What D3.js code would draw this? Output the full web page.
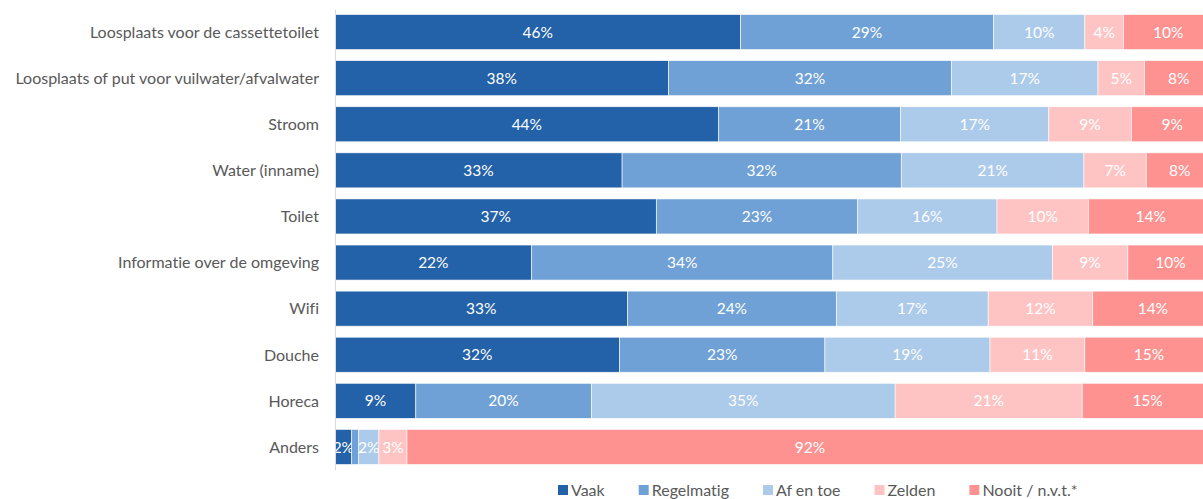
<!DOCTYPE html>
<html>
<head>
<meta charset="utf-8">
<script src="https://cdn.jsdelivr.net/npm/d3@7"></script>
<style>
  body { margin: 0; background: #fff; }
  svg { display: block; font-family: Lato, "Open Sans", sans-serif; font-variant-ligatures: none; }
</style>
</head>
<body>
<div id="chart"></div>
<script>
// categories, top to bottom
const categories = [
  "Loosplaats voor de cassettetoilet",
  "Loosplaats of put voor vuilwater/afvalwater",
  "Stroom",
  "Water (inname)",
  "Toilet",
  "Informatie over de omgeving",
  "Wifi",
  "Douche",
  "Horeca",
  "Anders"
];
const seriesNames = ["Vaak", "Regelmatig", "Af en toe", "Zelden", "Nooit / n.v.t.*"];
const colors = ["#2361a8", "#6fa1d6", "#accae9", "#fec4c4", "#fd9291"];

// percentages per series, same order as categories
const vaak       = [46.2, 38.0, 43.7, 32.7, 36.6, 22.4, 33.3, 32.4,  9.2,  1.9];
const regelmatig = [28.8, 32.2, 20.7, 31.8, 22.9, 34.3, 23.8, 23.4, 20.0,  0.8];
const afEnToe    = [10.4, 16.7, 16.9, 20.8, 15.9, 25.0, 17.3, 18.8, 34.6,  2.3];
const zelden     = [ 4.4,  5.3,  9.4,  7.1, 10.4,  8.6, 11.9, 10.8, 21.3,  3.2];
const nooit      = [10.2,  7.8,  9.3,  7.6, 14.2,  9.7, 13.7, 14.6, 14.9, 91.8];

const W = 1203, H = 499;
const margin = {top: 9, left: 335};

const rows = categories.map((c, i) => ({
  cat: c, s0: vaak[i], s1: regelmatig[i], s2: afEnToe[i], s3: zelden[i], s4: nooit[i]
}));
const keys = ["s0", "s1", "s2", "s3", "s4"];
const stacked = d3.stack().keys(keys)(rows);

const svg = d3.select("#chart").append("svg")
  .attr("width", W).attr("height", H);

const x = d3.scaleLinear().domain([0, 100]).range([margin.left, 1213]);
const y = d3.scaleBand().domain(categories).range([margin.top, 470])
  .paddingInner(0.24).paddingOuter(0.12);

const layer = svg.selectAll("g.layer")
  .data(stacked)
  .join("g")
  .attr("class", "layer")
  .attr("fill", (d, i) => colors[i]);

layer.selectAll("rect")
  .data(d => d)
  .join("rect")
  .attr("x", d => x(d[0]))
  .attr("y", d => y(d.data.cat))
  .attr("width", d => x(d[1]) - x(d[0]))
  .attr("height", y.bandwidth())
  .attr("stroke", "#fff")
  .attr("stroke-width", 0.75)
  .attr("stroke-opacity", 0.8);

// value labels
layer.selectAll("text")
  .data(d => d.filter(p => x(p[1]) - x(p[0]) > 12))
  .join("text")
  .attr("x", d => (x(d[0]) + x(d[1])) / 2)
  .attr("y", d => y(d.data.cat) + y.bandwidth() / 2)
  .attr("dy", "0.36em")
  .attr("text-anchor", "middle")
  .attr("fill", "#fff")
  .style("font-size", "15.5px")
  .text(d => Math.round(d[1] - d[0]) + "%");

// y axis
const yAxis = svg.append("g")
  .attr("transform", "translate(" + margin.left + ",0)")
  .call(d3.axisLeft(y).tickSize(0).tickPadding(16).tickSizeOuter(0));
yAxis.select(".domain").attr("stroke", "#d9d9d9");
yAxis.selectAll("text")
  .attr("fill", "#595959")
  .attr("dy", "0.36em")
  .style("font-size", "16px")
  .style("font-family", "Lato, 'Open Sans', sans-serif");

// legend
const legend = svg.append("g").attr("transform", "translate(0,490)");
const items = legend.selectAll("g")
  .data(seriesNames)
  .join("g");
items.append("rect")
  .attr("width", 10).attr("height", 10)
  .attr("y", -5)
  .attr("fill", (d, i) => colors[i]);
items.append("text")
  .attr("x", 13)
  .attr("dy", "0.36em")
  .attr("fill", "#595959")
  .style("font-size", "16px")
  .text(d => d);
let lx = 558;
items.each(function () {
  const g = d3.select(this);
  g.attr("transform", "translate(" + lx + ",0)");
  lx += 13 + g.select("text").node().getComputedTextLength() + 34;
});
</script>
</body>
</html>
